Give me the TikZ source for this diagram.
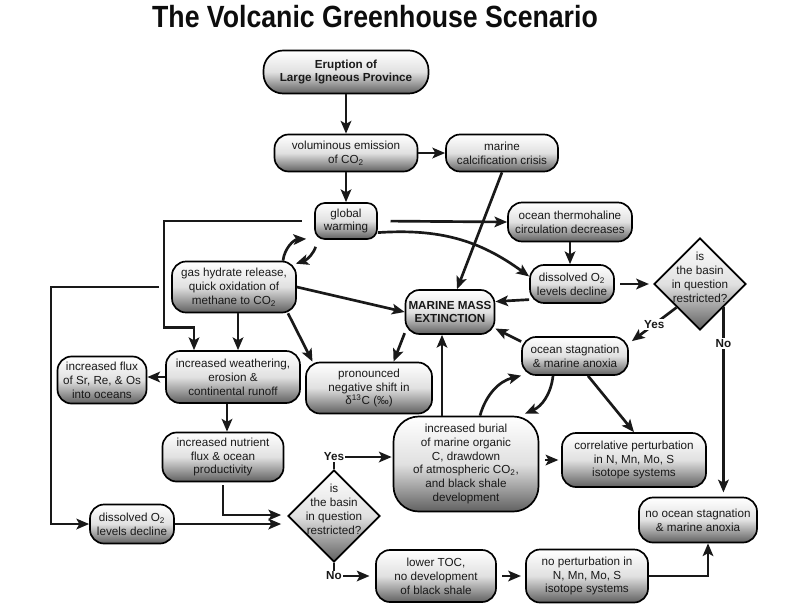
\documentclass[tikz,border=0pt]{standalone}
\usepackage{fontspec}
\setmainfont{Liberation Sans}
\newfontfamily\titlefont[FakeStretch=0.87]{Liberation Sans}
\usetikzlibrary{arrows.meta,shapes.geometric,calc}

\newcommand\boxfont{\fontsize{8.3}{9.9}\selectfont}

\tikzset{
  box/.style={draw, line width=1.2pt, rounded corners=10pt, align=center, inner sep=0pt,
    top color=white, bottom color=black!62, middle color=black!12,
    font=\boxfont, text=black!90},
  sz/.style 2 args={minimum width=#1*0.025cm, minimum height=#2*0.025cm},
  basin/.style={draw, line width=1.2pt, diamond, aspect=1, inner sep=0pt,
    top color=white, bottom color=black!62, middle color=black!12,
    minimum width=92*0.025cm, minimum height=92*0.025cm,
    label={[font=\boxfont, text=black!90, align=center, yshift=5pt]center:is\\the basin\\in question\\restricted?}},
  arr/.style={line width=1.9pt, black!90, -{Stealth[length=9pt,width=7.5pt,inset=2pt]}},
  lab/.style={fill=white, inner sep=1pt, font=\boxfont\bfseries, text=black!90},
}

\begin{document}
\begin{tikzpicture}[x=0.025cm, y=-0.025cm]
    \useasboundingbox (0, 0) rectangle (800, 613);
    \node[anchor=base, font=\titlefont\fontsize{21.8}{24}\selectfont\bfseries, text=black!95] at (375, 27)(title){The Volcanic Greenhouse Scenario};

    \node[box, sz={165}{43}, rounded corners=14pt, font=\boxfont\bfseries] at (346, 72)(lip){Eruption of\\Large Igneous Province};
    \node[box, sz={143}{37}] at (346, 153)(co2){voluminous emission\\of CO\textsubscript{2}};
    \node[box, sz={112}{37}] at (502, 153)(calc){marine\\calcification crisis};
    \node[box, sz={62}{36}, rounded corners=7pt] at (346, 221)(warm){global\\warming};
    \node[box, sz={124}{39}] at (570, 222)(thc){ocean thermohaline\\circulation decreases};
    \node[box, sz={124}{51}] at (234, 287)(hyd){gas hydrate release,\\quick oxidation of\\methane to CO\textsubscript{2}};
    \node[box, sz={89}{44}, font=\boxfont\bfseries] at (450, 312)(mme){MARINE MASS\\EXTINCTION};
    \node[box, sz={84}{38}] at (572, 284)(oxa){dissolved O\textsubscript{2}\\levels decline};
    \node[basin] at (700, 284)(basina){};
    \node[box, sz={106}{38}] at (575, 356)(stag){ocean stagnation\\\& marine anoxia};
    \node[box, sz={89}{47}] at (102, 380)(flux){increased flux\\of Sr, Re, \& Os\\into oceans};
    \node[box, sz={134}{52}] at (233, 377)(weath){increased weathering,\\erosion \&\\continental runoff};
    \node[box, sz={126}{51}] at (369, 388)(dC){pronounced\\negative shift in\\δ\textsuperscript{13}C (‰)};
    \node[box, sz={121}{49}] at (223, 457)(nutr){increased nutrient\\flux \& ocean\\productivity};
    \node[box, sz={84}{39}] at (132, 524)(oxb){dissolved O\textsubscript{2}\\levels decline};
    \node[basin] at (334, 516)(basinb){};
    \node[box, sz={145}{95}, rounded corners=18pt] at (466, 464)(burial){increased burial\\of marine organic\\C, drawdown\\of atmospheric CO\textsubscript{2},\\and black shale\\development};
    \node[box, sz={144}{54}] at (634, 460)(perta){correlative perturbation\\in N, Mn, Mo, S\\isotope systems};
    \node[box, sz={118}{45}] at (698, 520)(nostag){no ocean stagnation\\\& marine anoxia};
    \node[box, sz={120}{52}] at (436, 576)(toc){lower TOC,\\no development\\of black shale};
    \node[box, sz={122}{53}] at (587, 576)(pertb){no perturbation in\\N, Mn, Mo, S\\isotope systems};

    \path[arr]
        (lip) edge (co2)
        (co2) edge (calc)
        (co2) edge (warm)
        (calc.south) edge ($(mme.north)+(7,0)$)
        (warm.east) edge[shorten <=9pt] (thc.west)
        (warm.-20) edge[bend left=20] (oxa.170)
        ($(hyd.north)+(49,0)$) edge[bend left=40] ($(warm.south west)+(-8,-1)$)
        ($(warm.south)+(-29,0)$) edge[bend left=30, shorten <=5pt] ($(hyd.north east)+(-1,3)$)
        (thc.south) edge (thc.south |- oxa.north)
        (oxa.200) edge (mme.13)
        (oxa.east) edge[shorten <=4pt, shorten >=3pt] (basina.west)
        (stag.165) edge (mme.-20)
        (hyd.east) edge (mme.west)
        (hyd.-26) edge (dC.155)
        (mme.205) edge (dC.47)
        ($(hyd.south)+(4,0)$) edge ($(weath.north)+(5,0)$)
        (weath.west) edge (weath.west -| flux.east)
        ($(weath.south)+(-6,0)$) edge ($(nutr.north)+(4,0)$)
        ($(burial.north)+(-24,0)$) edge ($(mme.south)+(-8,0)$)
        ($(burial.north)+(14,0)$) edge[bend left=30] (stag.200)
        ($(stag.south)+(-22,0)$) edge[bend left=30] ($(burial.north)+(59,-2)$)
        ($(stag.south)+(13,0)$) edge (perta.north)
        ($(burial.east)+(0,-4)$) edge[shorten <=4pt, shorten >=2pt] (perta.west)
        (oxb.east) edge ($(basinb.west)+(-6,8)$)
        (toc.east) edge[shorten <=4pt, shorten >=3pt] (pertb.west)
        ;

    \draw[arr, shorten <=9pt] (warm.west) -- ++(-150, 0) |- ($(weath.north)+(-39,-23)$) -- ($(weath.north)+(-39,0)$);
    \draw[arr, shorten <=8.5pt] (hyd.west) -- ++(-120, 0) |- (oxb.west);
    \draw[arr, shorten <=2pt] (nutr.south) |- ($(basinb.west)+(-6,-1)$);
    \draw[arr] (basinb.north) |- node[lab]{Yes} ($(burial.west)+(-1,-7)$);
    \draw[arr, shorten >=4pt] (basinb.south) |- node[lab]{No} (toc.west);
    \draw[arr] (pertb.east) -| ($(nostag.south)+(10,0)$);
    \draw[arr] (basina.south west) -- node[lab]{Yes} ($(stag.north east)+(3,5)$);
    \draw[arr, shorten >=3pt] (basina.south east) -- node[lab, pos=0.19]{No} (basina.south east |- nostag.north);
\end{tikzpicture}
\end{document}
